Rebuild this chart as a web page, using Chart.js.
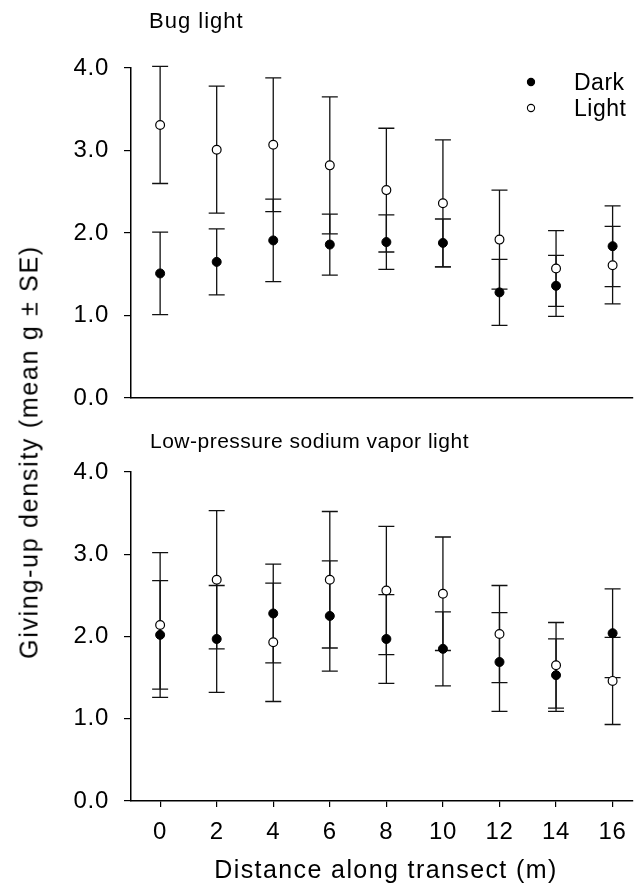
<!DOCTYPE html>
<html>
<head>
<meta charset="utf-8">
<script src="https://cdn.jsdelivr.net/npm/chart.js@4.4.0/dist/chart.umd.min.js"></script>
<style>
  body { margin: 0; background: #fff; }
  #wrap { position: relative; width: 638px; height: 889px; font-family: "Liberation Sans", Arial, sans-serif; }
  canvas { position: absolute; left: 0; }
  #bugChart { top: 0; }
  #sodiumChart { top: 420px; }
  #ytitle {
    position: absolute; left: 29px; top: 452px;
    transform: translate(-50%, -50%) rotate(-90deg);
    font-size: 25px; line-height: 25px; letter-spacing: 1.7px;
    white-space: nowrap; color: #000;
  }
</style>
</head>
<body>
<div id="wrap">
  <canvas id="bugChart" width="638" height="420"></canvas>
  <canvas id="sodiumChart" width="638" height="469"></canvas>
  <div id="ytitle">Giving-up density (mean g ± SE)</div>
</div>
<script>
const distances = [0, 2, 4, 6, 8, 10, 12, 14, 16]
const seriesNames = ['Dark', 'Light']

// Bug light panel (mean and SE)
const bugDarkMean  = [1.51, 1.65, 1.91, 1.86, 1.89, 1.88, 1.28, 1.36, 1.84]
const bugDarkSE    = [0.50, 0.40, 0.50, 0.37, 0.33, 0.29, 0.40, 0.37, 0.49]
const bugLightMean = [3.31, 3.01, 3.07, 2.82, 2.52, 2.36, 1.92, 1.57, 1.61]
const bugLightSE   = [0.71, 0.77, 0.81, 0.83, 0.75, 0.77, 0.60, 0.46, 0.47]

// Low-pressure sodium vapor light panel
const sodDarkMean  = [2.02, 1.97, 2.28, 2.25, 1.97, 1.85, 1.69, 1.53, 2.04]
const sodDarkSE    = [0.66, 0.65, 0.60, 0.67, 0.54, 0.45, 0.60, 0.44, 0.54]
const sodLightMean = [2.14, 2.69, 1.93, 2.69, 2.56, 2.52, 2.03, 1.65, 1.46]
const sodLightSE   = [0.88, 0.84, 0.72, 0.83, 0.78, 0.69, 0.59, 0.52, 0.53]

const FONT = '"Liberation Sans", Arial, sans-serif'
Chart.defaults.font.family = FONT
Chart.defaults.color = '#000'

function spacedText(ctx, text, x, y, size, spacing, align) {
  ctx.save()
  ctx.font = size + 'px ' + FONT
  ctx.letterSpacing = spacing + 'px'
  ctx.fillStyle = '#000'
  ctx.textAlign = align || 'left'
  ctx.textBaseline = 'alphabetic'
  ctx.fillText(text, x, y)
  ctx.restore()
}

// vertical SE bars with caps, drawn under the points
const errorBars = {
  id: 'errorBars',
  beforeDatasetsDraw(chart) {
    const { ctx, scales: { x, y } } = chart
    ctx.save()
    ctx.strokeStyle = '#111'
    ctx.lineWidth = 1.3
    chart.data.datasets.forEach(ds => {
      ds.data.forEach((p, i) => {
        const se = ds.errors[i]
        const px = x.getPixelForValue(p.x)
        const top = y.getPixelForValue(p.y + se)
        const bottom = y.getPixelForValue(p.y - se)
        ctx.beginPath()
        ctx.moveTo(px, top)
        ctx.lineTo(px, bottom)
        ctx.moveTo(px - 8, top)
        ctx.lineTo(px + 8, top)
        ctx.moveTo(px - 8, bottom)
        ctx.lineTo(px + 8, bottom)
        ctx.stroke()
      })
    })
    ctx.restore()
  }
}

// panel title, legend and x title
const panelText = {
  id: 'panelText',
  beforeDraw(chart) {
    chart.ctx.letterSpacing = '0.7px'
  },
  afterDraw(chart, args, opts) {
    const ctx = chart.ctx
    spacedText(ctx, opts.title, opts.titleX, opts.titleY, opts.titleSize, opts.titleSpacing)
    if (opts.legend) {
      const ds = chart.data.datasets
      ds.forEach((d, i) => {
        const cy = 82 + i * 26
        ctx.save()
        ctx.beginPath()
        ctx.arc(531, cy, 3.6, 0, Math.PI * 2)
        ctx.fillStyle = d.backgroundColor
        ctx.fill()
        ctx.lineWidth = 1.1
        ctx.strokeStyle = '#000'
        ctx.stroke()
        ctx.restore()
        spacedText(ctx, d.label, 574, cy + 8, 23, 0.5)
      })
    }
    if (opts.xTitle) {
      spacedText(ctx, opts.xTitle, 386, 458, 25, 1.4, 'center')
    }
  }
}

function makePanel(id, darkMean, darkSE, lightMean, lightSE, cfg) {
  const ctx = document.getElementById(id).getContext('2d')
  return new Chart(ctx, {
    type: 'scatter',
    data: {
      datasets: [
        {
          label: seriesNames[0],
          data: distances.map((d, i) => ({ x: d, y: darkMean[i] })),
          errors: darkSE,
          backgroundColor: '#000',
          borderColor: '#000',
          borderWidth: 1,
          pointRadius: 4.5
        },
        {
          label: seriesNames[1],
          data: distances.map((d, i) => ({ x: d, y: lightMean[i] })),
          errors: lightSE,
          backgroundColor: '#fff',
          borderColor: '#000',
          borderWidth: 1.2,
          pointRadius: 4.4
        }
      ]
    },
    options: {
      responsive: false,
      animation: false,
      events: [],
      layout: { padding: cfg.padding },
      plugins: {
        legend: { display: false },
        tooltip: { enabled: false },
        panelText: cfg.text
      },
      scales: {
        x: {
          type: 'linear',
          min: -1.03,
          max: 16.7,
          afterFit: axis => { axis.height = cfg.xHeight },
          afterBuildTicks: axis => { axis.ticks = distances.map(v => ({ value: v })) },
          grid: {
            display: cfg.xTicks,
            drawOnChartArea: false,
            drawTicks: cfg.xTicks,
            tickLength: 6,
            color: '#000',
            lineWidth: 1.2
          },
          border: { display: true, color: '#000', width: 1.5 },
          ticks: {
            display: cfg.xTicks,
            autoSkip: false,
            maxRotation: 0,
            padding: 11,
            font: { size: 24 },
            color: '#000',
            callback: v => String(v)
          }
        },
        y: {
          min: 0,
          max: 4,
          afterFit: axis => {
            axis.width = 131
            // label overflow must not push the plot area
            axis.paddingTop = 0
            axis.paddingBottom = 0
          },
          grid: {
            drawOnChartArea: false,
            drawTicks: true,
            tickLength: 7,
            color: '#000',
            lineWidth: 1.2
          },
          border: { display: true, color: '#000', width: 1.5 },
          ticks: {
            stepSize: 1,
            padding: 15,
            font: { size: 24 },
            color: '#000',
            callback: v => v.toFixed(1)
          }
        }
      }
    },
    plugins: [errorBars, panelText]
  })
}

makePanel('bugChart', bugDarkMean, bugDarkSE, bugLightMean, bugLightSE, {
  padding: { top: 68, right: 5, bottom: 0, left: 0 },
  xHeight: 22,
  xTicks: false,
  text: { title: 'Bug light', titleX: 149, titleY: 28, titleSize: 22, titleSpacing: 1, legend: true }
})

makePanel('sodiumChart', sodDarkMean, sodDarkSE, sodLightMean, sodLightSE, {
  padding: { top: 52, right: 5, bottom: 0, left: 0 },
  xHeight: 88,
  xTicks: true,
  text: { title: 'Low-pressure sodium vapor light', titleX: 150, titleY: 28, titleSize: 21, titleSpacing: 0.5,
          legend: false, xTitle: 'Distance along transect (m)' }
})
</script>
</body>
</html>
